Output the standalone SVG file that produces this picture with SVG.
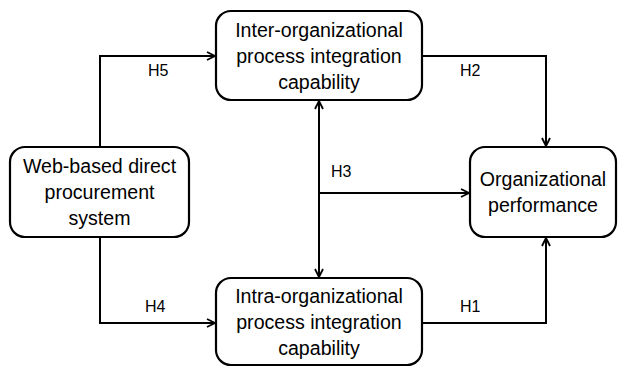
<svg xmlns="http://www.w3.org/2000/svg" width="618" height="368" viewBox="0 0 618 368">
<style>
.box{fill:#fff;stroke:#000;stroke-width:2.2}
.t{font-family:"Liberation Sans",Arial,sans-serif;font-size:19.6px;fill:#000;text-anchor:middle}
.l{font-family:"Liberation Sans",Arial,sans-serif;font-size:16px;fill:#000}
.c{fill:none;stroke:#000;stroke-width:2}
</style>
<defs>
<marker id="a" viewBox="0 0 10 10" refX="9" refY="5" markerWidth="10" markerHeight="10" markerUnits="userSpaceOnUse" orient="auto-start-reverse">
<path d="M1,1 L9,5 L1,9" fill="none" stroke="#000" stroke-width="1.8"/>
</marker>
</defs>
<g id="connectors">
<path class="c" d="M100,147 V56 H215" marker-end="url(#a)"/>
<path class="c" d="M100,237 V323 H215" marker-end="url(#a)"/>
<path class="c" d="M422,56 H546 V146" marker-end="url(#a)"/>
<path class="c" d="M422,323 H546 V238" marker-end="url(#a)"/>
<path class="c" d="M319,101 V277" marker-start="url(#a)" marker-end="url(#a)"/>
<path class="c" d="M319,193 H469" marker-end="url(#a)"/>
<text class="l" x="148" y="76">H5</text>
<text class="l" x="460" y="76">H2</text>
<text class="l" x="331" y="177">H3</text>
<text class="l" x="145" y="312">H4</text>
<text class="l" x="460" y="312">H1</text>
</g>
<g id="inter">
<rect class="box" x="216" y="11" width="206" height="89" rx="15"/>
<text class="t" x="319" y="37">Inter-organizational</text>
<text class="t" x="319" y="63">process integration</text>
<text class="t" x="319" y="89">capability</text>
</g>
<g id="web">
<rect class="box" x="10" y="147" width="179" height="90" rx="15"/>
<text class="t" x="99.5" y="173">Web-based direct</text>
<text class="t" x="99.5" y="199">procurement</text>
<text class="t" x="99.5" y="225">system</text>
</g>
<g id="perf">
<rect class="box" x="470" y="147" width="146" height="90" rx="15"/>
<text class="t" x="543" y="186">Organizational</text>
<text class="t" x="543" y="212">performance</text>
</g>
<g id="intra">
<rect class="box" x="216" y="278" width="206" height="87" rx="15"/>
<text class="t" x="319" y="303">Intra-organizational</text>
<text class="t" x="319" y="329">process integration</text>
<text class="t" x="319" y="355">capability</text>
</g>
</svg>
